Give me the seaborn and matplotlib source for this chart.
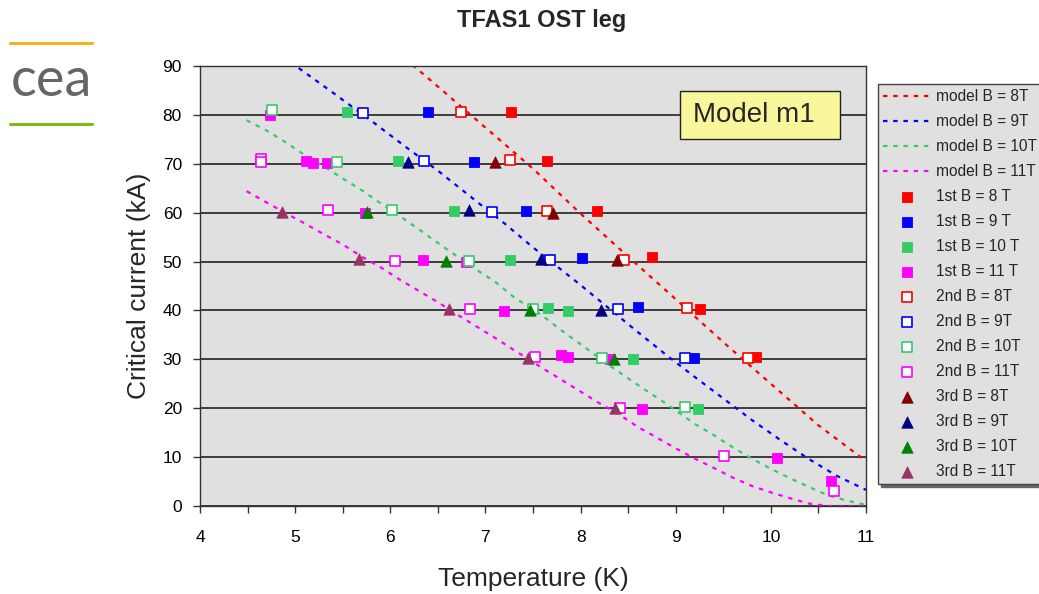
import matplotlib
matplotlib.use("Agg")
import matplotlib.pyplot as plt
import seaborn as sns
import numpy as np
from matplotlib.patches import Rectangle
from matplotlib.lines import Line2D

sns.set_style("white")
plt.rcParams['font.family'] = ['Liberation Sans', 'DejaVu Sans']

# ---------------- data ----------------
# model curves (dotted)
model_8T_T = [6.15, 6.5, 7.0, 7.5, 8.0, 8.5, 9.0, 9.5, 10.0, 10.5, 11.0]
model_8T_I = [91.6, 85.8, 77.4, 69.0, 59.8, 51.0, 42.3, 33.5, 25.0, 16.5, 9.2]
model_9T_T = [4.95, 5.4, 5.8, 6.2, 6.5, 6.9, 7.2, 7.5, 8.0, 8.3, 8.6, 8.9, 9.2, 9.5, 9.8, 10.1, 10.4, 10.7, 11.0]
model_9T_I = [90.8, 84.5, 78.8, 72.9, 68.6, 62.4, 57.8, 52.9, 45.2, 40.4, 35.6, 30.9, 26.4, 22.0, 17.6, 13.5, 9.6, 6.1, 3.3]
model_10T_T = [4.49, 4.7, 4.9, 5.1, 5.3, 5.5, 5.7, 5.9, 6.1, 6.3, 6.5, 6.7, 6.9, 7.1, 7.3, 7.6, 7.8, 8.0, 8.3,
               8.5, 8.7, 8.9, 9.2, 9.4, 9.6, 9.8, 10.0, 10.2, 10.4, 10.6, 10.8, 11.0]
model_10T_I = [78.9, 76.8, 74.4, 71.8, 69.5, 67.0, 64.6, 61.9, 59.3, 56.6, 53.8, 51.1, 48.4, 45.9, 42.7, 38.9, 35.9,
               33.1, 28.8, 26.1, 23.5, 20.9, 16.8, 14.5, 12.0, 9.7, 7.6, 5.7, 3.9, 2.2, 1.1, 0.2]
model_11T_T = [4.49, 4.7, 4.9, 5.1, 5.3, 5.5, 5.7, 5.9, 6.1, 6.3, 6.5, 6.7, 6.9, 7.1, 7.3, 7.6, 7.8, 8.0, 8.2,
               8.4, 8.6, 8.8, 9.0, 9.2, 9.4, 9.6, 9.8, 10.0, 10.2, 10.4, 10.6, 11.0]
model_11T_I = [64.4, 62.1, 59.9, 57.8, 55.6, 53.5, 51.0, 48.8, 46.3, 44.0, 41.7, 39.2, 36.8, 34.4, 31.9, 28.2, 25.8,
               23.4, 21.0, 18.8, 16.2, 14.0, 11.8, 9.7, 7.8, 5.8, 4.1, 2.8, 1.6, 0.5, 0.0, 0.0]

# 1st measurement (filled squares)
first_8T_T = [7.27, 7.65, 8.17, 8.75, 9.26, 9.84]
first_8T_I = [80.5, 70.5, 60.3, 51.0, 40.3, 30.4]
first_9T_T = [6.40, 6.88, 7.43, 8.02, 8.60, 9.19]
first_9T_I = [80.5, 70.4, 60.4, 50.8, 40.7, 30.3]
first_10T_T = [5.54, 6.08, 6.67, 7.26, 7.66, 7.87, 8.55, 9.23]
first_10T_I = [80.5, 70.6, 60.4, 50.3, 40.5, 39.9, 30.1, 19.9]
first_11T_T = [4.74, 5.11, 5.19, 5.34, 5.73, 6.34, 6.80, 7.19, 7.79, 7.87, 8.31, 8.65, 10.06, 10.63]
first_11T_I = [80.0, 70.6, 70.1, 70.1, 60.0, 50.4, 50.0, 39.9, 30.8, 30.5, 30.0, 19.8, 9.9, 5.1]

# 2nd measurement (open squares)
second_8T_T = [6.74, 7.26, 7.65, 8.46, 9.12, 9.76]
second_8T_I = [80.5, 70.7, 60.4, 50.3, 40.4, 30.2]
second_9T_T = [5.71, 6.35, 7.07, 7.68, 8.39, 9.10]
second_9T_I = [80.3, 70.6, 60.2, 50.3, 40.2, 30.2]
second_10T_T = [4.76, 5.44, 6.02, 6.83, 7.50, 8.23, 9.10]
second_10T_I = [81.0, 70.4, 60.5, 50.2, 40.2, 30.2, 20.2]
second_11T_T = [4.64, 4.64, 5.35, 6.05, 6.84, 7.52, 8.41, 9.51, 10.66]
second_11T_I = [70.9, 70.3, 60.6, 50.2, 40.2, 30.4, 20.1, 10.2, 3.1]

# 3rd measurement (triangles)
third_8T_T = [7.10, 7.71, 8.38]
third_8T_I = [70.4, 59.9, 50.3]
third_9T_T = [6.19, 6.83, 7.58, 8.21]
third_9T_I = [70.4, 60.6, 50.5, 40.1]
third_10T_T = [5.76, 6.59, 7.47, 8.35]
third_10T_I = [60.2, 50.1, 40.1, 30.0]
third_11T_T = [4.86, 5.67, 6.62, 7.45, 8.36]
third_11T_I = [60.2, 50.5, 40.2, 30.3, 20.0]

x_ticks = [4, 5, 6, 7, 8, 9, 10, 11]
y_ticks = [0, 10, 20, 30, 40, 50, 60, 70, 80, 90]

# ---------------- styles ----------------
c_model = ['#ff0000', '#0000ff', '#33cc66', '#ff00ff']
c_first = ['#ff0000', '#0000ff', '#33cc66', '#ff00ff']
c_second = ['#ff0000', '#0000ff', '#33cc66', '#ff00ff']
c_third = ['#800000', '#000080', '#008000', '#993366']

W, H = 1039, 594
fig = plt.figure(figsize=(W / 100, H / 100), dpi=100)
ax = fig.add_axes([200 / W, 1 - 506 / H, 666 / W, 440 / H])
ax.set_facecolor('#e0e0e0')

models = [(model_8T_T, model_8T_I, 'model B = 8T'), (model_9T_T, model_9T_I, 'model B = 9T'),
          (model_10T_T, model_10T_I, 'model B = 10T'), (model_11T_T, model_11T_I, 'model B = 11T')]
for (t, i, lab), c in zip(models, c_model):
    sns.lineplot(x=t, y=i, ax=ax, color=c, linestyle=(0, (2.0, 2.6)), linewidth=1.6,
                 label=lab, sort=False, estimator=None, zorder=2)

firsts = [(first_8T_T, first_8T_I, '1st B = 8 T'), (first_9T_T, first_9T_I, '1st B = 9 T'),
          (first_10T_T, first_10T_I, '1st B = 10 T'), (first_11T_T, first_11T_I, '1st B = 11 T')]
for (t, i, lab), c in zip(firsts, c_first):
    sns.scatterplot(x=t, y=i, ax=ax, marker='s', s=55, color=c, edgecolor=c, linewidth=0.6,
                    label=lab, zorder=3)

seconds = [(second_8T_T, second_8T_I, '2nd B = 8T'), (second_9T_T, second_9T_I, '2nd B = 9T'),
           (second_10T_T, second_10T_I, '2nd B = 10T'), (second_11T_T, second_11T_I, '2nd B = 11T')]
for (t, i, lab), c in zip(seconds, c_second):
    sns.scatterplot(x=t, y=i, ax=ax, marker='s', s=46, color=c, facecolor='white', edgecolor=c,
                    linewidth=1.2, label=lab, zorder=4)

thirds = [(third_8T_T, third_8T_I, '3rd B = 8T'), (third_9T_T, third_9T_I, '3rd B = 9T'),
          (third_10T_T, third_10T_I, '3rd B = 10T'), (third_11T_T, third_11T_I, '3rd B = 11T')]
for (t, i, lab), c in zip(thirds, c_third):
    sns.scatterplot(x=t, y=i, ax=ax, marker='^', s=68, color=c, edgecolor=c, linewidth=0.5,
                    label=lab, zorder=5)

handles, labels = ax.get_legend_handles_labels()
if ax.get_legend() is not None:
    ax.get_legend().remove()

# ---------------- axes ----------------
ax.set_xlim(4, 11)
ax.set_ylim(0, 90)
ax.set_xticks(x_ticks)
ax.set_xticks(np.arange(4.5, 11, 1.0), minor=True)
ax.set_yticks(y_ticks)
ax.yaxis.grid(True, color='#111111', linewidth=1.1)
ax.xaxis.grid(False)
ax.set_axisbelow(True)
for s in ax.spines.values():
    s.set_color('#333333')
    s.set_linewidth(1.0)
ax.tick_params(axis='x', which='both', bottom=True, direction='out', length=5, width=1,
               color='#333333', pad=12, labelsize=12.5, labelcolor='black')
ax.tick_params(axis='y', which='both', left=True, direction='out', length=5, width=1,
               color='#333333', pad=8, labelsize=12.5, labelcolor='black')
ax.set_xlabel('Temperature (K)', fontsize=19, labelpad=16)
ax.set_ylabel('Critical current (kA)', fontsize=19, labelpad=8)

# Model m1 box
ax.add_patch(Rectangle((480 / 666, (506 - 139) / 440), 160 / 666, 48 / 440,
                       transform=ax.transAxes, facecolor='#f9f79c', edgecolor='#222222',
                       linewidth=1.0, zorder=6))
ax.text(554 / 666, (506 - 115) / 440, 'Model m1', transform=ax.transAxes, ha='center', va='center',
        fontsize=20, zorder=7)

# title
fig.text(542 / W, 1 - 21 / H, 'TFAS1 OST leg', ha='center', va='center', fontsize=17, fontweight='bold')

# legend
leg = fig.legend(handles, labels, loc='upper left', bbox_to_anchor=(878 / W, 1 - 84 / H),
                 bbox_transform=fig.transFigure, borderaxespad=0, fontsize=11.2,
                 frameon=True, fancybox=False, shadow={'color': '#666666', 'alpha': 1},
                 facecolor='#e0e0e0', edgecolor='#444444', framealpha=1,
                 handlelength=3.0, handletextpad=0.4, labelspacing=0.64, borderpad=0.35)
leg.get_frame().set_linewidth(1.0)

# logo
fig.add_artist(Line2D([10 / W, 92 / W], [1 - 43 / H, 1 - 43 / H], color='#f0b323', linewidth=2.2,
                      transform=fig.transFigure))
fig.add_artist(Line2D([10 / W, 92 / W], [1 - 124 / H, 1 - 124 / H], color='#7dbb12', linewidth=2.2,
                      transform=fig.transFigure))
fig.text(51 / W, 1 - 81 / H, 'cea', ha='center', va='center', fontsize=39, color='#666666',
         family=['Lato', 'Liberation Sans'])

fig.savefig('out.png', dpi=100, facecolor='white')
